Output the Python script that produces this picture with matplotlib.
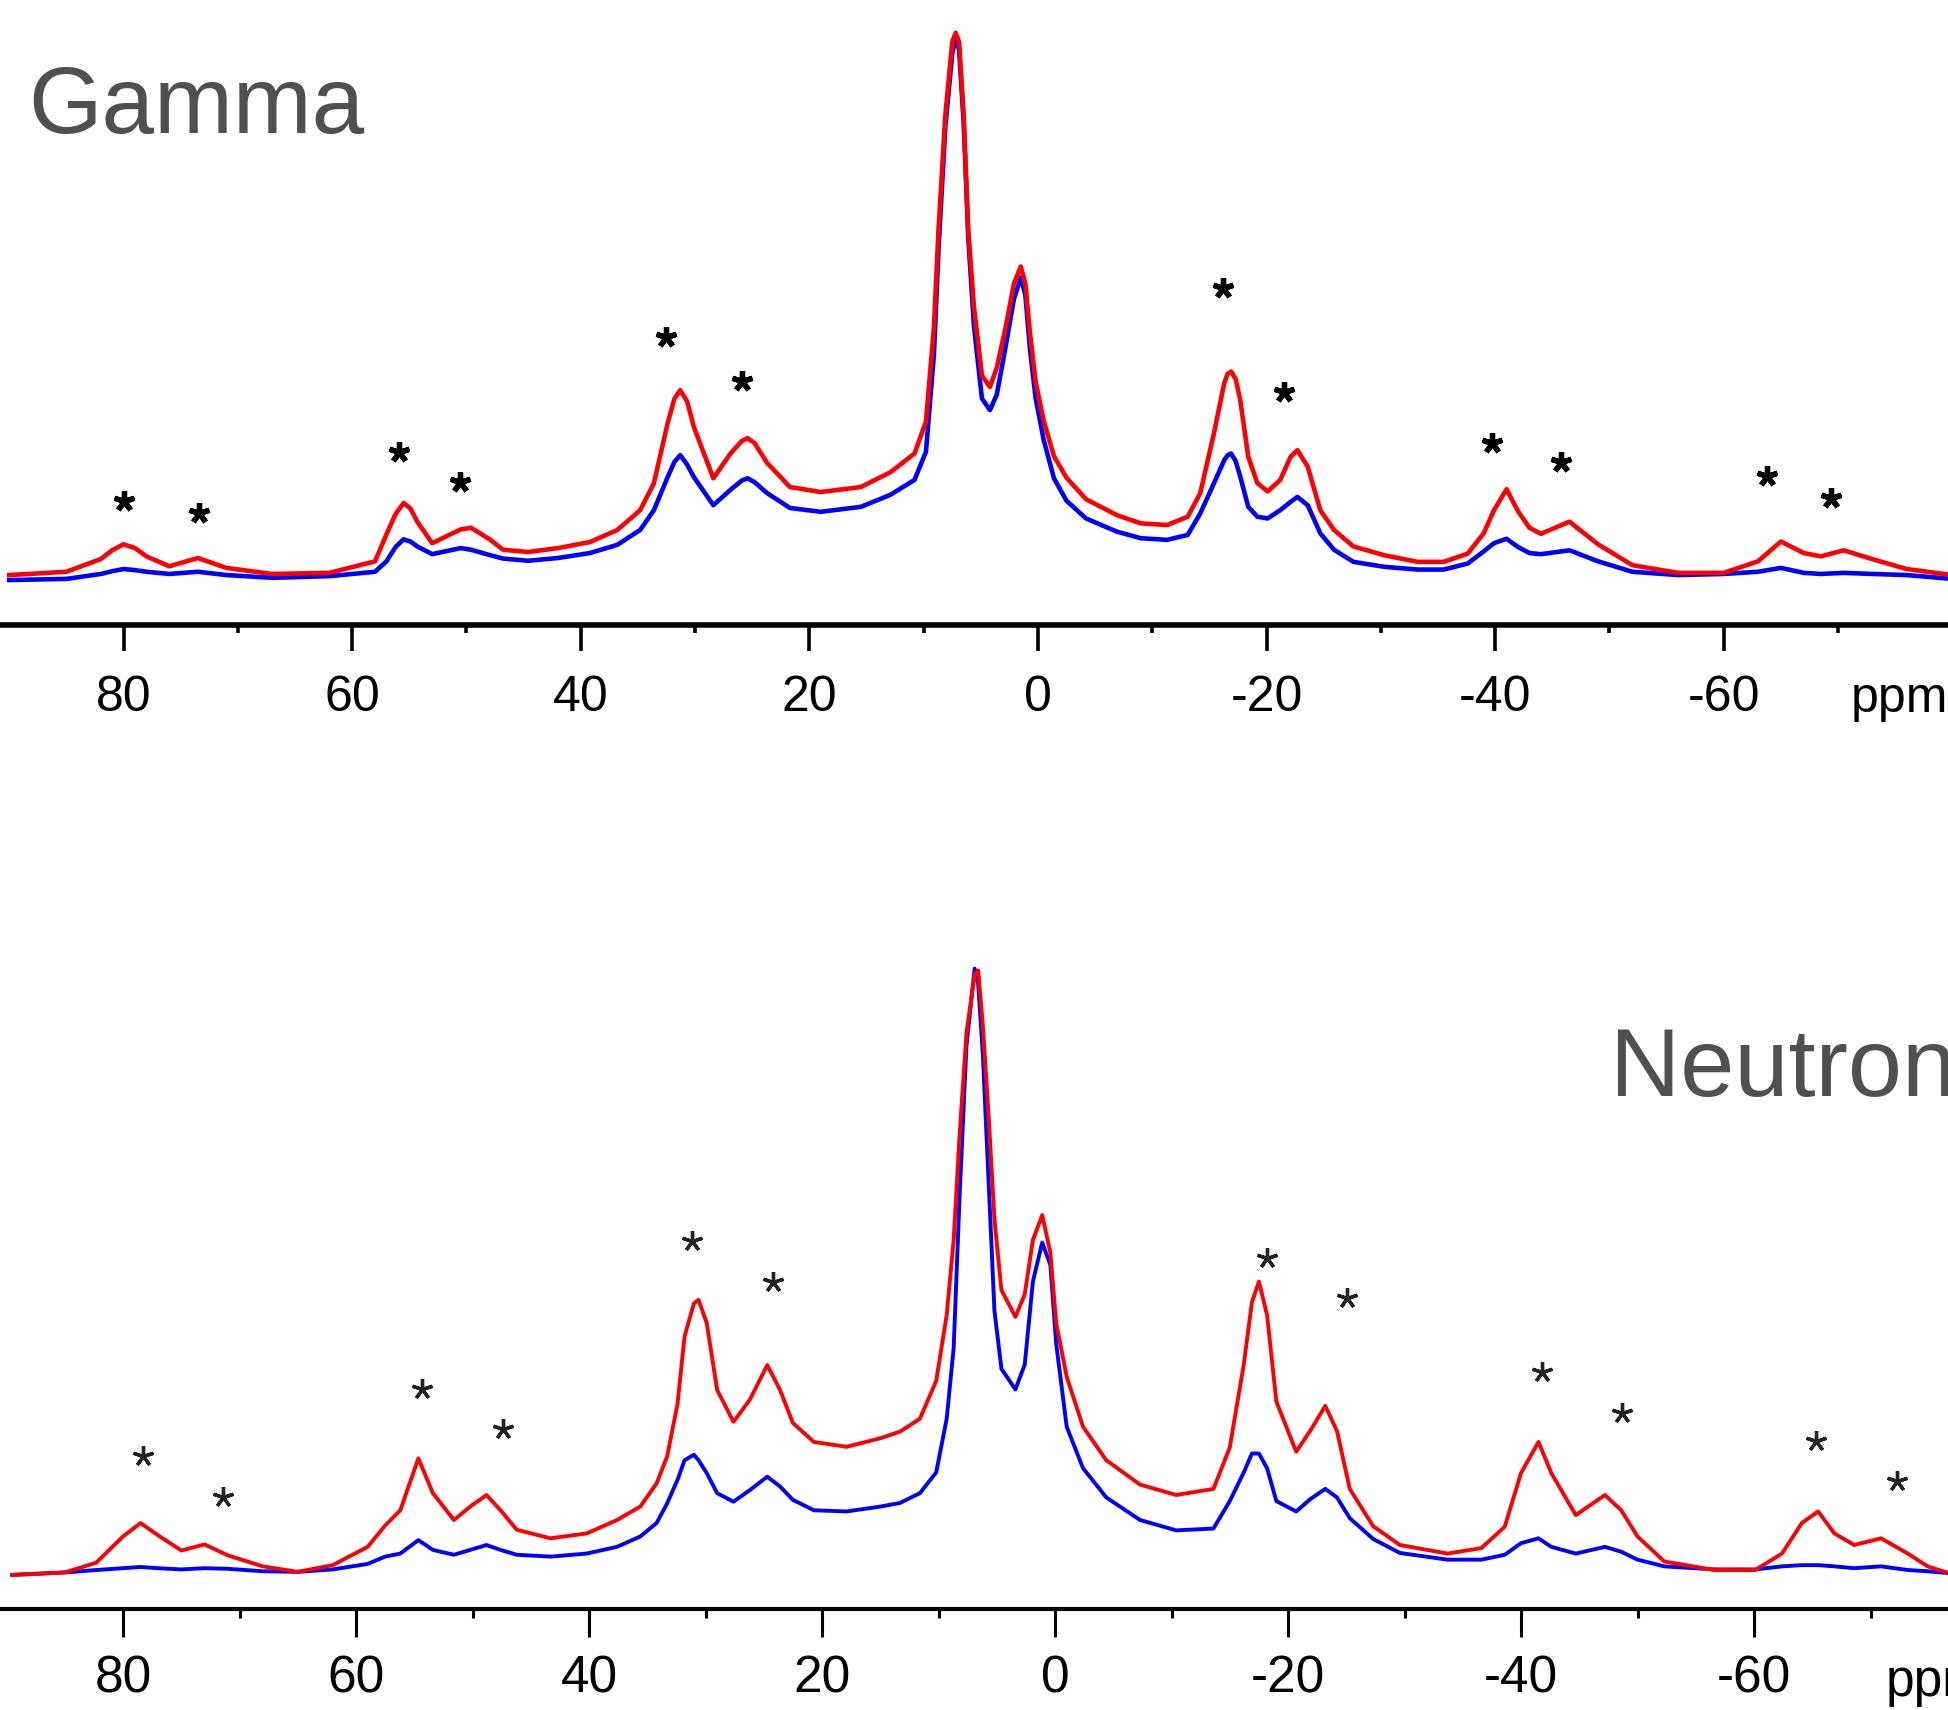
import matplotlib
matplotlib.use("Agg")
import matplotlib.pyplot as plt

plt.rcParams['font.family'] = ['Liberation Sans', 'DejaVu Sans']
plt.rcParams['axes.unicode_minus'] = False

# === Gamma spectrum (upper panel): chemical shift (ppm) and intensities ===
gamma_ppm = [90.0, 85.0, 82.0, 81.0, 80.0, 79.0, 78.0, 76.0, 73.5, 71.0, 67.0, 62.0,
             58.0, 57.0, 56.2, 55.5, 54.9, 54.3, 53.0, 50.5, 49.6, 47.9, 46.8, 44.6,
             42.0, 39.2, 36.8, 34.8, 33.6, 32.4, 31.8, 31.3, 30.7, 30.1, 28.4, 26.9, 25.9, 25.4, 24.8, 23.7,
             21.7, 19.0, 15.5, 12.9, 10.8, 9.8, 9.1, 8.7, 8.1, 7.5, 7.2, 6.9, 6.5,
             6.1, 5.6, 4.9, 4.2, 3.6, 2.8, 2.1, 1.5, 1.1, 0.7, 0.2, -0.5, -1.4, -2.5,
             -4.2, -6.9, -9.0, -11.3, -13.1, -14.2, -15.4, -16.3, -16.6, -16.9, -17.3, -17.7,
             -18.4, -19.2, -20.1, -21.2, -22.1, -22.7, -23.6, -24.7, -25.9, -27.6,
             -30.3, -33.2, -35.5, -37.6, -39.0, -39.9, -41.0, -42.0, -43.0, -44.0,
             -46.5, -49.0, -52.0, -56.0, -60.0, -63.0, -65.0, -67.0, -68.5, -70.5,
             -73.0, -76.0, -80.0]
gamma_red = [0.9, 1.5, 3.8, 5.4, 6.5, 5.8, 4.3, 2.5, 4.0, 2.2, 1.1, 1.3,
             3.4, 8.3, 12.0, 14.0, 13.0, 10.6, 6.7, 9.2, 9.5, 7.3, 5.5, 5.1,
             5.8, 6.9, 9.1, 12.7, 17.6, 28.5, 33.0, 34.5, 32.5, 27.8, 18.5, 23.0, 25.3, 25.8, 24.9, 21.3,
             16.9, 16.0, 16.9, 19.6, 23.0, 28.8, 46.0, 63.7, 84.6, 97.8, 99.5, 97.8, 84.6,
             63.7, 49.7, 37.2, 35.1, 38.6, 46.2, 53.9, 57.0, 53.9, 45.0, 36.0, 29.0, 22.5, 18.6,
             14.7, 11.8, 10.3, 10.0, 11.5, 15.8, 26.7, 35.8, 37.5, 37.9, 36.5, 32.7,
             22.4, 17.6, 16.1, 18.2, 22.4, 23.6, 20.6, 12.7, 9.1, 6.1,
             4.5, 3.3, 3.3, 4.8, 8.5, 12.7, 16.5, 12.5, 9.5, 8.4,
             10.6, 6.5, 2.7, 1.3, 1.3, 3.4, 7.0, 4.9, 4.3, 5.4,
             3.8, 2.0, 0.9]
gamma_blue = [0.0, 0.2, 1.1, 1.6, 2.0, 1.8, 1.5, 1.1, 1.5, 0.9, 0.4, 0.7,
              1.5, 3.4, 6.0, 7.4, 7.0, 6.1, 4.7, 5.8, 5.5, 4.5, 3.9, 3.5,
              4.0, 4.9, 6.4, 9.1, 12.7, 18.7, 21.5, 22.7, 21.0, 18.7, 13.6, 16.4, 18.1, 18.5, 17.8, 15.8,
              13.1, 12.4, 13.3, 15.5, 18.2, 23.3, 41.0, 60.2, 82.5, 95.7, 98.5, 96.4, 83.2,
              62.3, 46.2, 33.0, 30.9, 33.7, 42.8, 51.1, 55.0, 51.8, 42.0, 33.0, 25.5, 18.5, 14.4,
              11.2, 8.8, 7.6, 7.3, 8.2, 12.1, 17.6, 21.8, 22.7, 23.0, 21.6, 18.8,
              13.3, 11.5, 11.2, 12.7, 14.2, 15.1, 13.6, 8.5, 5.5, 3.3,
              2.4, 1.9, 1.9, 3.0, 5.2, 6.7, 7.5, 6.0, 4.9, 4.7,
              5.4, 3.4, 1.5, 0.9, 1.1, 1.5, 2.2, 1.3, 1.1, 1.3,
              1.1, 0.9, 0.2]
gamma_star_ppm = [80.0, 73.4, 55.9, 50.6, 32.5, 25.9, -16.2, -21.5, -39.7, -45.8, -63.8, -69.4]
gamma_star_y = [14.4, 12.2, 23.2, 17.8, 44.2, 36.1, 53.1, 34.1, 25.0, 21.4, 18.9, 14.9]

# === Neutron spectrum (lower panel) ===
neutron_ppm = [89.5, 85.0, 82.3, 80.0, 78.5, 77.0, 75.0, 73.0, 71.0, 68.0, 65.0, 62.0,
               59.0, 57.5, 56.2, 54.65, 53.4, 51.6, 50.2, 48.8, 47.6, 46.2, 43.3, 40.2,
               37.6, 35.6, 34.2, 33.3, 32.4, 31.8, 31.0, 30.6, 29.9, 29.0, 27.6, 26.2,
               24.7, 23.6, 22.5, 20.7, 17.9, 15.0, 13.3, 11.6, 10.2, 9.3, 8.7, 8.2,
               7.6, 6.9, 6.6, 6.2, 5.7, 5.2, 4.6, 3.4, 2.6, 1.9, 1.1, 0.4, -0.1, -1.0,
               -2.4, -4.4, -7.3, -10.4, -13.6, -15.0, -16.2, -16.9, -17.5, -18.2,
               -19.0, -20.7, -21.9, -23.2, -24.2, -25.3, -27.3, -29.6, -33.7, -36.6,
               -38.6, -40.0, -41.5, -42.6, -44.7, -47.2, -48.6, -50.0, -52.3, -56.6,
               -60.1, -62.4, -64.1, -65.5, -66.9, -68.6, -70.9, -73.2, -74.9, -76.7]
neutron_red = [0.5, 0.9, 2.5, 6.8, 9.0, 7.0, 4.5, 5.5, 3.7, 1.9, 1.0, 2.1,
               5.1, 8.6, 11.1, 19.6, 13.9, 9.5, 11.7, 13.6, 11.1, 7.9, 6.5, 7.3,
               9.5, 11.7, 15.5, 19.9, 28.6, 39.6, 45.0, 45.6, 41.8, 30.8, 25.6, 29.2,
               34.9, 30.8, 25.4, 22.3, 21.5, 22.9, 24.0, 26.1, 32.3, 43.1, 55.4, 72.4,
               89.4, 98.9, 99.6, 90.7, 75.8, 58.8, 47.2, 42.8, 46.5, 55.4, 59.5, 53.3, 41.8, 33.0,
               24.8, 19.3, 15.3, 13.6, 14.6, 21.4, 35.0, 45.2, 48.6, 43.1,
               28.9, 20.7, 24.1, 28.2, 24.1, 14.6, 8.5, 5.4, 4.0, 4.9,
               8.4, 17.2, 22.3, 17.2, 10.3, 13.6, 11.1, 6.8, 2.7, 1.3,
               1.3, 4.0, 9.0, 10.9, 7.3, 5.4, 6.5, 4.0, 1.9, 0.8]
neutron_blue = [0.5, 0.9, 1.3, 1.6, 1.8, 1.6, 1.4, 1.6, 1.5, 1.1, 1.0, 1.4,
                2.3, 3.5, 4.0, 6.2, 4.6, 3.8, 4.6, 5.4, 4.6, 3.8, 3.5, 4.0,
                5.1, 6.8, 9.0, 12.2, 16.1, 19.3, 20.2, 19.3, 17.2, 13.9, 12.5, 14.4,
                16.6, 15.0, 12.8, 11.1, 10.9, 11.7, 12.3, 13.9, 17.3, 26.1, 37.7, 62.2,
                87.3, 99.9, 97.5, 86.0, 64.9, 43.8, 34.3, 30.9, 35.0, 48.6, 55.0, 51.3, 38.4, 24.8,
                18.0, 13.2, 9.5, 7.8, 8.1, 12.6, 17.3, 20.4, 20.4, 18.0,
                12.6, 10.9, 12.9, 14.6, 13.2, 9.8, 6.4, 4.1, 3.0, 3.0,
                3.8, 5.7, 6.5, 5.1, 4.0, 5.1, 4.3, 3.0, 1.9, 1.4,
                1.4, 1.9, 2.1, 2.1, 1.9, 1.6, 1.9, 1.3, 1.1, 0.8]
neutron_star_ppm = [78.3, 71.4, 54.3, 47.4, 31.2, 24.2, -18.2, -25.1, -41.8, -48.7, -65.3, -72.3]
neutron_star_y = [20.0, 13.3, 31.0, 24.5, 55.2, 48.5, 52.4, 45.9, 33.7, 27.1, 22.5, 15.9]

major_ticks = [80, 60, 40, 20, 0, -20, -40, -60]
tick_labels = ['80', '60', '40', '20', '0', '-20', '-40', '-60']
minor_ticks = [70, 50, 30, 10, -10, -30, -50, -70]


def style_axis(ax, spine_lw, major_len, minor_len, tick_w, fs, pad):
    for s in ['top', 'left', 'right']:
        ax.spines[s].set_visible(False)
    ax.spines['bottom'].set_linewidth(spine_lw)
    ax.set_yticks([])
    ax.set_xticks(major_ticks)
    ax.set_xticklabels(tick_labels)
    ax.set_xticks(minor_ticks, minor=True)
    ax.tick_params(axis='x', which='major', direction='out', length=major_len,
                   width=tick_w, labelsize=fs, pad=pad)
    ax.tick_params(axis='x', which='minor', direction='out', length=minor_len, width=tick_w)
    ax.patch.set_visible(False)


fig = plt.figure(figsize=(19.48, 17.10), dpi=100)

# === upper panel ===
ax1 = fig.add_axes([0.0, 0.6345, 1.0, 0.3655])
ax1.plot(gamma_ppm, gamma_blue, color='#0000ff', lw=3.3, solid_joinstyle='round')
ax1.plot(gamma_ppm, gamma_red, color='#ff0000', lw=3.3, solid_joinstyle='round')
ax1.plot(gamma_star_ppm, gamma_star_y, ls='none', marker=(5, 2, 0), ms=15, mew=3.8, color='black')
ax1.set_xlim(90.81, -79.62)
ax1.set_ylim(-8.18, 105.45)
style_axis(ax1, 4.0, 19, 6, 2.6, 36, 17)

# === lower panel ===
ax2 = fig.add_axes([0.0, 0.0591, 1.0, 0.4263])
ax2.plot(neutron_ppm, neutron_blue, color='#0000ff', lw=2.8, solid_joinstyle='round')
ax2.plot(neutron_ppm, neutron_red, color='#ff0000', lw=2.8, solid_joinstyle='round')
ax2.plot(neutron_star_ppm, neutron_star_y, ls='none', marker=(5, 2, 0), ms=15, mew=2.4, color='#222222')
ax2.set_xlim(90.56, -76.65)
ax2.set_ylim(-5.08, 114.43)
style_axis(ax2, 3.0, 20, 6.5, 2.2, 37, 13)

# === labels (cut at the right edge as in the original figure) ===
fig.text(0.950, 0.5836, 'ppm', fontsize=36, va='baseline', ha='left')
fig.text(0.9682, 0.0082, 'ppm', fontsize=37, va='baseline', ha='left')
fig.text(0.0144, 0.9222, 'Gamma', fontsize=68, color='#505050', va='baseline', ha='left')
fig.text(0.8265, 0.3591, 'Neutrons', fontsize=70, color='#505050', va='baseline', ha='left')

fig.savefig('out.png', dpi=100)
